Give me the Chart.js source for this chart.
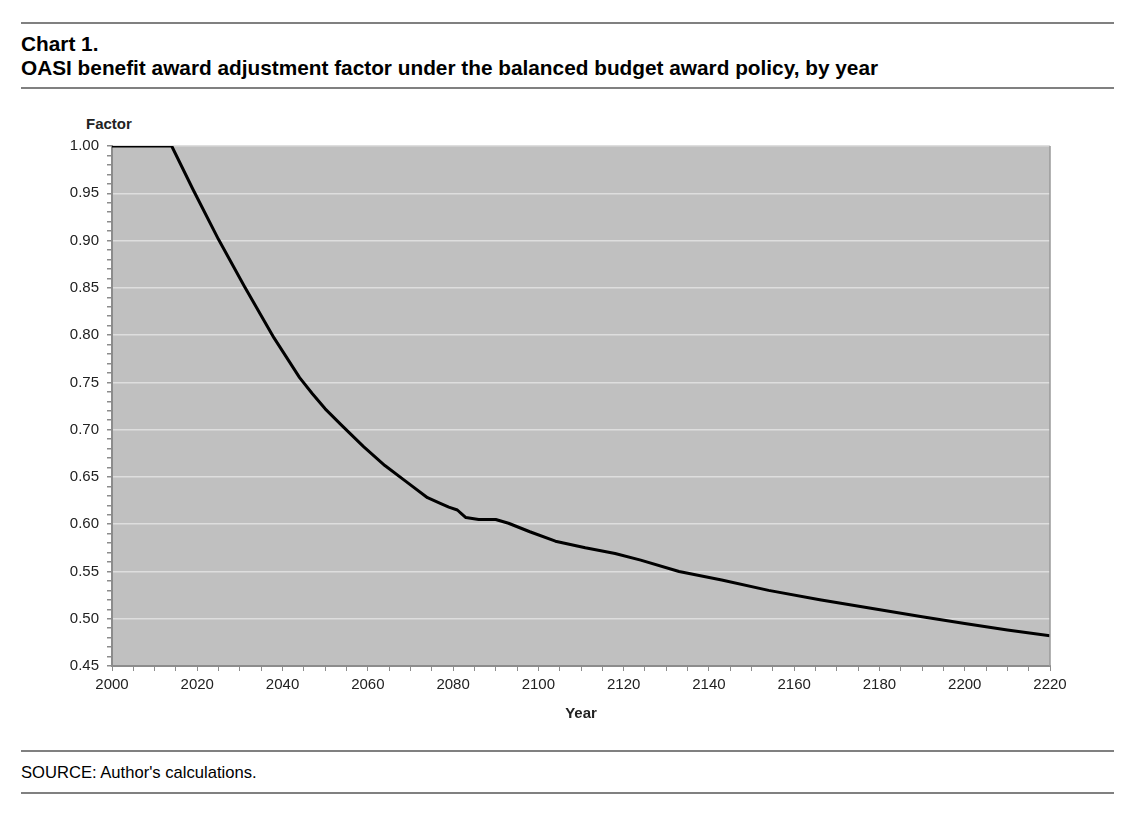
<!DOCTYPE html>
<html>
<head>
<meta charset="utf-8">
<script src="https://cdn.jsdelivr.net/npm/chart.js@4.4.1/dist/chart.umd.min.js"></script>
<style>
  body { margin: 0; background: #fff; font-family: "Liberation Sans", Arial, sans-serif; }
  .rule { position: absolute; left: 21px; width: 1093px; height: 2px; background: #808080; }
  .txt { position: absolute; left: 21px; color: #000; white-space: nowrap; }
  #wrap { position: absolute; left: 0; top: 100px; width: 1143px; height: 650px; }
</style>
</head>
<body>
<div class="rule" style="top:22px"></div>
<div class="txt" style="top:32px; font-size:20.8px; font-weight:bold;">Chart 1.</div>
<div class="txt" style="top:56px; font-size:20.8px; font-weight:bold;">OASI benefit award adjustment factor under the balanced budget award policy, by year</div>
<div class="rule" style="top:87px"></div>
<div class="txt" style="top:115px; left:86px; font-size:15px; font-weight:bold; color:#222;">Factor</div>
<div id="wrap"><canvas id="chart"></canvas></div>
<div class="rule" style="top:750px"></div>
<div class="txt" style="top:763px; font-size:16.6px;">SOURCE: Author's calculations.</div>
<div class="rule" style="top:792px"></div>
<script>
// values
let years = [2000, 2014, 2019, 2025, 2031, 2038, 2044, 2047, 2050, 2054, 2059, 2064, 2069, 2074, 2077, 2079, 2081, 2082, 2083, 2086, 2090, 2093, 2098, 2104, 2111, 2118, 2124, 2133, 2143, 2154, 2166, 2178, 2190, 2200, 2210, 2220];
let factor = [1.000, 1.000, 0.954, 0.901, 0.852, 0.797, 0.755, 0.738, 0.722, 0.704, 0.682, 0.662, 0.645, 0.628, 0.622, 0.618, 0.615, 0.611, 0.607, 0.605, 0.605, 0.601, 0.592, 0.582, 0.575, 0.569, 0.562, 0.550, 0.541, 0.530, 0.520, 0.511, 0.502, 0.495, 0.488, 0.482];
let xTicks = [2000, 2020, 2040, 2060, 2080, 2100, 2120, 2140, 2160, 2180, 2200, 2220];
let yTicks = [0.45, 0.50, 0.55, 0.60, 0.65, 0.70, 0.75, 0.80, 0.85, 0.90, 0.95, 1.00];

Chart.defaults.font.family = "'Liberation Sans', Arial, sans-serif";
Chart.defaults.font.size = 15;
Chart.defaults.color = "#222";

const isMajorY = (v) => yTicks.some((t) => Math.abs(t - v) < 1e-6);
const isMajorX = (v) => xTicks.indexOf(Math.round(v)) >= 0;

const plotBackground = {
    id: "plotBackground",
    beforeDraw(chart) {
        const { ctx, chartArea: a } = chart;
        ctx.save();
        ctx.fillStyle = "#c0c0c0";
        ctx.fillRect(a.left, a.top, a.right - a.left, a.bottom - a.top);
        ctx.restore();
    },
    afterDraw(chart) {
        const { ctx, chartArea: a } = chart;
        ctx.save();
        ctx.strokeStyle = "#9a9a9a";
        ctx.lineWidth = 1.5;
        ctx.beginPath();
        ctx.moveTo(a.right, a.top);
        ctx.lineTo(a.right, a.bottom);
        ctx.stroke();
        ctx.restore();
    },
};

new Chart(document.getElementById("chart"), {
    type: "line",
    data: {
        datasets: [
            {
                data: years.map((y, i) => ({ x: y, y: factor[i] })),
                borderColor: "#000",
                borderWidth: 3,
                pointRadius: 0,
                tension: 0,
                borderJoinStyle: "round",
            },
        ],
    },
    plugins: [plotBackground],
    options: {
        responsive: true,
        maintainAspectRatio: false,
        animation: false,
        layout: { padding: { top: 46, right: 93, left: 0, bottom: 0 } },
        plugins: { legend: { display: false }, tooltip: { enabled: false } },
        scales: {
            x: {
                type: "linear",
                min: 2000,
                max: 2220,
                afterFit(scale) { scale.height = 84; },
                ticks: {
                    stepSize: 5,
                    autoSkip: false,
                    maxRotation: 0,
                    padding: 5,
                    color: "#222",
                    callback: (v) => (isMajorX(v) ? String(v) : ""),
                },
                grid: { color: "rgba(0,0,0,0)", tickColor: "#8c8c8c", tickLength: 5, tickWidth: 1 },
                border: { color: "#8c8c8c", width: 2 },
                title: {
                    display: true,
                    text: "Year",
                    font: { size: 15, weight: "bold" },
                    color: "#222",
                    padding: { top: 0, bottom: 27 },
                },
            },
            y: {
                min: 0.45,
                max: 1.0,
                afterFit(scale) { scale.width = 112; },
                ticks: {
                    stepSize: 0.01,
                    autoSkip: false,
                    padding: 8,
                    color: "#222",
                    callback: (v) => (isMajorY(v) ? v.toFixed(2) : ""),
                },
                grid: {
                    color: (c) => (c.tick && isMajorY(c.tick.value) && c.tick.value > 0.46 ? "#dedede" : "rgba(0,0,0,0)"),
                    lineWidth: 1.5,
                    tickColor: "#8c8c8c",
                    tickLength: 5,
                },
                border: { color: "#8c8c8c", width: 2 },
            },
        },
    },
});
</script>
</body>
</html>
